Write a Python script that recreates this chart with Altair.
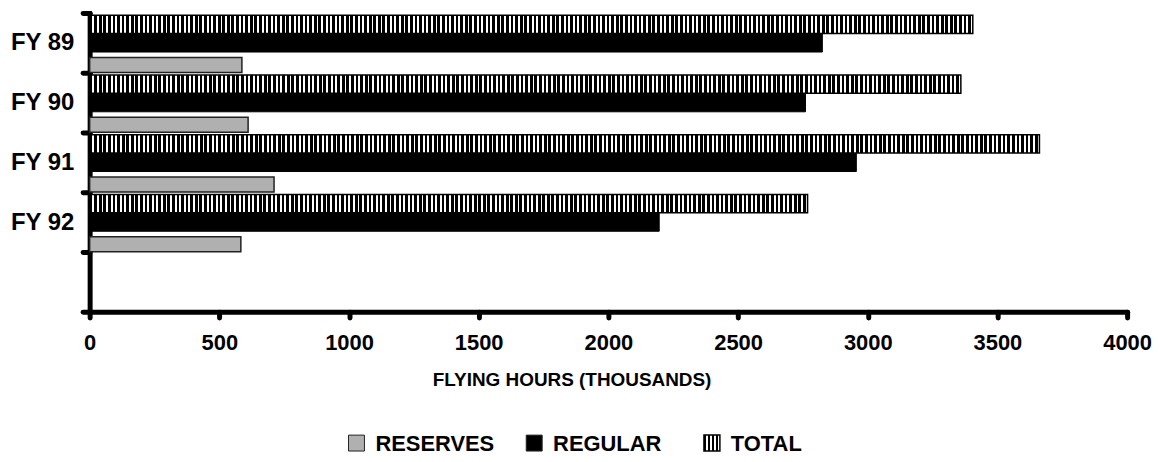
import altair as alt
import pandas as pd

years = ["FY 89", "FY 90", "FY 91", "FY 92"]
reserves = [587, 611, 711, 583]
regular = [2825, 2760, 2956, 2196]
total = [3405, 3359, 3662, 2768]
series = ["TOTAL", "REGULAR", "RESERVES"]
legend_order = ["RESERVES", "REGULAR", "TOTAL"]
x_ticks = [0, 500, 1000, 1500, 2000, 2500, 3000, 3500, 4000]

FONT = "Liberation Sans"
W, H = 1042, 300
XMAX = 4000
PERIOD = 4.6


def stripes(n, black=0.6):
    stops = []
    for i in range(n):
        a, b, c = i / n, (i + black) / n, (i + 1) / n
        stops += [
            alt.GradientStop(color="#000000", offset=a),
            alt.GradientStop(color="#000000", offset=b),
            alt.GradientStop(color="#ffffff", offset=b),
            alt.GradientStop(color="#ffffff", offset=c),
        ]
    return alt.LinearGradient(gradient="linear", stops=stops, x1=0, x2=1, y1=0, y2=0)


rows = []
for i, y in enumerate(years):
    rows.append({"year": y, "series": "TOTAL", "value": total[i]})
    rows.append({"year": y, "series": "REGULAR", "value": regular[i]})
    rows.append({"year": y, "series": "RESERVES", "value": reserves[i]})
df = pd.DataFrame(rows)

y_enc = alt.Y(
    "year:N",
    scale=alt.Scale(domain=years + [""], paddingInner=0, paddingOuter=0),
    axis=alt.Axis(
        title=None, domainWidth=5, domainColor="black", domainCap="round",
        tickBand="extent", tickSize=7, tickWidth=5, tickColor="black", tickCap="round",
        labelFont=FONT, labelFontSize=24, labelFontWeight="bold", labelColor="black",
        labelPadding=9,
    ),
)
yoff = alt.YOffset("series:N", scale=alt.Scale(domain=series, paddingInner=0, paddingOuter=0.12))
x_enc = alt.X(
    "value:Q",
    scale=alt.Scale(domain=[0, XMAX], nice=False, zero=True),
    axis=alt.Axis(
        values=x_ticks, format="d", title="FLYING HOURS (THOUSANDS)",
        domainWidth=5, domainColor="black", domainCap="round",
        tickSize=6, tickWidth=5, tickColor="black", tickCap="round",
        labelFont=FONT, labelFontSize=22, labelFontWeight="bold", labelColor="black",
        labelPadding=15, grid=False, labelFlush=False, labelOverlap=False,
        titleFont=FONT, titleFontSize=19, titleFontWeight="bold", titleColor="black",
        titleX=484, titleY=74, titleAlign="center", titleBaseline="alphabetic",
    ),
)

base = alt.Chart(df)

regular_bars = base.transform_filter(alt.datum.series == "REGULAR").mark_bar(
    fill="black", stroke="black", strokeWidth=1
).encode(y=y_enc, yOffset=yoff, x=x_enc)

reserves_bars = base.transform_filter(alt.datum.series == "RESERVES").mark_bar(
    fill="#b0b0b0", stroke="#222222", strokeWidth=1.5, height={"band": 0.82}
).encode(y=y_enc, yOffset=yoff, x=x_enc)

total_layers = []
for i, yr in enumerate(years):
    n = max(1, round(total[i] / XMAX * W / PERIOD))
    total_layers.append(
        base.transform_filter((alt.datum.series == "TOTAL") & (alt.datum.year == yr)).mark_bar(
            fill=stripes(n), stroke="black", strokeWidth=1.5
        ).encode(y=y_enc, yOffset=yoff, x=x_enc)
    )

main = alt.layer(regular_bars, reserves_bars, *total_layers).properties(width=W, height=H)

# legend panel
leg_df = pd.DataFrame({"series": legend_order})
leg_x = alt.X("series:N", sort=legend_order,
              scale=alt.Scale(domain=legend_order, type="point", padding=0, range=[268, 625]), axis=None)
leg_base = alt.Chart(leg_df)
leg_plain = leg_base.transform_filter(alt.datum.series != "TOTAL").mark_square(
    size=256, opacity=1, stroke="#222222", strokeWidth=1
).encode(
    x=leg_x,
    fill=alt.Fill("series:N", scale=alt.Scale(domain=["RESERVES", "REGULAR"], range=["#b0b0b0", "black"]), legend=None),
)
leg_total = leg_base.transform_filter(alt.datum.series == "TOTAL").mark_square(
    size=256, opacity=1, fill=stripes(4), stroke="black", strokeWidth=1.5
).encode(x=leg_x)
leg_text = leg_base.mark_text(
    align="left", baseline="middle", dx=19, dy=1, font=FONT, fontSize=22, fontWeight="bold", color="black"
).encode(x=leg_x, text="series:N")
legend = alt.layer(leg_plain, leg_total, leg_text).properties(width=W, height=20)

chart = alt.vconcat(main, legend, spacing=43).properties(
    padding={"left": 1, "top": -8, "right": 0, "bottom": 0},
    background="white",
).configure_view(stroke=None)

chart.save("out.html", embed_options={"renderer": "svg", "actions": False})
